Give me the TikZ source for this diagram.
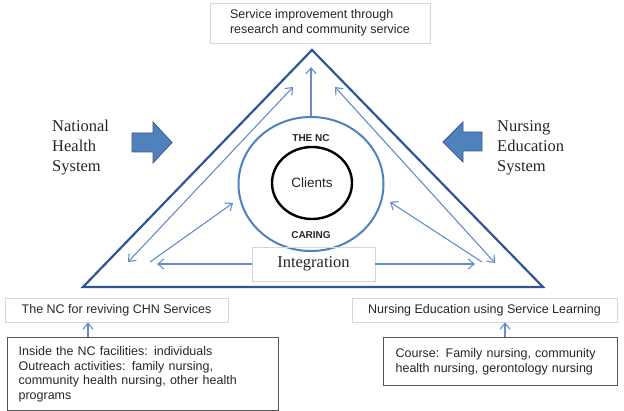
\documentclass[tikz,border=0pt]{standalone}
\usepackage{fontspec}
\setmainfont{Liberation Serif}
\setsansfont{Liberation Sans}
\usepackage{xcolor}
\definecolor{tridark}{RGB}{47,85,151}
\definecolor{ncblue}{RGB}{79,129,189}
\definecolor{linkblue}{RGB}{100,142,200}
\definecolor{blockedge}{RGB}{56,93,138}
\definecolor{boxlight}{RGB}{215,215,215}
\definecolor{boxdark}{RGB}{85,85,85}
\usepackage{tikz}
\usetikzlibrary{shapes.geometric}
\usetikzlibrary{arrows.meta}
\newcommand{\sanssize}{\sffamily\fontsize{12.5}{14.5}\selectfont}
\newcommand{\serifsize}{\rmfamily\fontsize{16.5}{20}\selectfont}
\tikzset{
    common/.style={rectangle, inner sep=0pt, text=black!85},
    plainbox/.style={common, draw=boxlight, line width=0.8pt, font=\sanssize},
    framebox/.style={common, draw=boxdark, line width=1.2pt, font=\sanssize, align=left},
    sidetext/.style={common, anchor=north west, align=left, font=\serifsize},
    ncring/.style={ellipse, draw=ncblue, line width=2pt, minimum width=145pt, minimum height=134pt, inner sep=0pt},
    clientsring/.style={ellipse, draw=black, line width=2.4pt, minimum width=80pt, minimum height=72pt, inner sep=0pt, font=\sffamily\fontsize{13.5}{15}\selectfont, text=black!85},
    nclabel/.style={common, font=\sffamily\bfseries\fontsize{10}{12}\selectfont},
    triangle/.style={draw=tridark, line width=2.2pt, line join=miter},
    link/.style={draw=linkblue, line width=1.1pt, >={Straight Barb[length=6pt, width=10pt]}},
    blockarrow/.style={fill=ncblue, draw=blockedge, line width=0.8pt, line join=miter}
}

\begin{document}
\begin{tikzpicture}[x=1pt, y=-1pt]
    \useasboundingbox (0,0) rectangle (624,411);

    % the triangle
    \coordinate (apex) at (312,50);
    \coordinate (base-left) at (83,287);
    \coordinate (base-right) at (543,287);
    \draw[triangle] (apex) -- (base-left) -- (base-right) -- cycle;

    \node[plainbox, minimum width=220pt, minimum height=40pt, align=left] (service) at (320,23)
        {Service improvement through\\research and community service};

    % the NC and its clients
    \node[ncring] (nc) at (311,184) {};
    \node[clientsring] (clients) at (312,183) {Clients};
    \node[nclabel] (the-nc) at (311,138) {THE NC};
    \node[nclabel] (caring) at (311,235) {CARING};
    \node[plainbox, minimum width=123pt, minimum height=34pt, font=\serifsize] (integration) at (313.5,264) {Integration};

    \coordinate (up-end) at (311,67);
    \coordinate (left-top) at (293,87);
    \coordinate (left-bottom) at (128,262);
    \coordinate (right-top) at (335,87);
    \coordinate (right-bottom) at (495,263);
    \coordinate (left-foot) at (150,262);
    \coordinate (left-tip) at (233,203);
    \coordinate (right-foot) at (482,262);
    \coordinate (right-tip) at (390,202);
    \coordinate (int-left) at (157,264);
    \coordinate (int-right) at (475,264);

    \draw[link, ->] (nc) -- (up-end);
    \draw[link, <->] (left-top) -- (left-bottom);
    \draw[link, <->] (right-top) -- (right-bottom);
    \draw[link, ->] (left-foot) -- (left-tip);
    \draw[link, ->] (right-foot) -- (right-tip);
    \draw[link, ->] (integration) -- (int-left);
    \draw[link, ->] (integration) -- (int-right);

    % the two systems
    \node[sidetext] (health-system) at (52,120) {National\\Health\\System};
    \node[sidetext] (education-system) at (497,120) {Nursing\\Education\\System};
    \draw[blockarrow] (132,133) -- (153,133) -- (153,122) -- (172,142.5) -- (153,163) -- (153,152) -- (132,152) -- cycle;
    \draw[blockarrow] (482,132) -- (463,132) -- (463,122) -- (443,142) -- (463,162) -- (463,151) -- (482,151) -- cycle;

    % bottom boxes
    \node[plainbox, minimum width=223pt, minimum height=24pt] (reviving) at (116.5,310) {The NC for reviving CHN Services};
    \node[plainbox, minimum width=265pt, minimum height=24pt] (service-learning) at (484.5,310) {Nursing Education using Service Learning};
    \node[framebox, anchor=north west, inner xsep=11pt, text width=249pt, minimum height=73pt] (facilities) at (7,337)
        {Inside the NC facilities: individuals\\Outreach activities: family nursing,\\community health nursing, other health\\programs};
    \node[framebox, anchor=north west, inner xsep=12pt, text width=210pt, minimum height=48pt] (course) at (383,337)
        {Course: Family nursing, community\\health nursing, gerontology nursing};

    \coordinate (reviving-x) at (88,0);
    \coordinate (learning-x) at (505,0);
    \draw[link, ->] (facilities.north -| reviving-x) -- (reviving.south -| reviving-x);
    \draw[link, ->] (course.north -| learning-x) -- (service-learning.south -| learning-x);
\end{tikzpicture}
\end{document}
